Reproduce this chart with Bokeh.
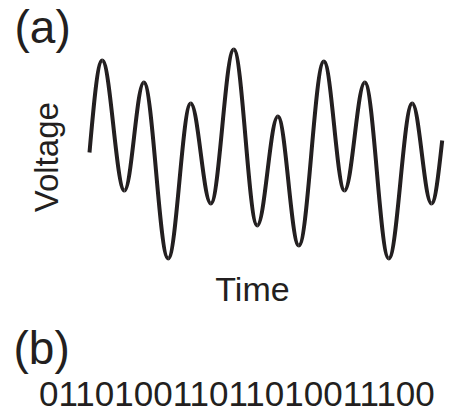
import math
from bokeh.plotting import figure
from bokeh.models import Range1d, Label, ColumnDataSource
from bokeh.embed import file_html
from bokeh.resources import INLINE

# ---- data (time in arbitrary units, voltage in arbitrary units)
time_pts = [0.0, 0.72, 1.98, 3.08, 4.46, 5.74, 6.88, 8.18, 9.51, 10.68,
            11.87, 13.29, 14.46, 15.61, 16.97, 18.30, 19.39, 20.0]
voltage_pts = [0.01, 0.93, -0.37, 0.71, -1.05, 0.50, -0.50, 1.04, -0.72, 0.37,
               -0.92, 0.92, -0.37, 0.71, -1.05, 0.50, -0.50, 0.13]
bits = [0, 1, 1, 0, 1, 0, 0, 1, 1, 0, 1, 1, 0, 1, 0, 0, 1, 1, 1, 0, 0]
label_a = "(a)"
label_b = "(b)"
x_title = "Time"
y_title = "Voltage"

INK = "#231F20"
FONT = "Liberation Sans"

W, H = 460, 409

# smooth curve through the extrema, drawn with Bokeh's bezier glyph
x0s, y0s, x1s, y1s, cx0s, cy0s, cx1s, cy1s = [], [], [], [], [], [], [], []
n = len(time_pts)
for i in range(n - 1):
    xa, ya, xb, yb = time_pts[i], voltage_pts[i], time_pts[i + 1], voltage_pts[i + 1]
    dx, dy = xb - xa, yb - ya
    if i == 0:
        c0 = (xa + 0.326 * dx, ya + 0.513 * dy)
        c1 = (xa + 0.638 * dx, yb)
    elif i == n - 2:
        c0 = (xa + 0.362 * dx, ya)
        c1 = (xa + 0.674 * dx, ya + 0.487 * dy)
    else:
        c0 = (xa + 0.3642 * dx, ya)
        c1 = (xb - 0.3642 * dx, yb)
    x0s.append(xa); y0s.append(ya); x1s.append(xb); y1s.append(yb)
    cx0s.append(c0[0]); cy0s.append(c0[1]); cx1s.append(c1[0]); cy1s.append(c1[1])

src = ColumnDataSource(dict(x0=x0s, y0=y0s, x1=x1s, y1=y1s,
                            cx0=cx0s, cy0=cy0s, cx1=cx1s, cy1=cy1s))

p = figure(width=W, height=H, output_backend="svg", toolbar_location=None,
           x_axis_type=None, y_axis_type=None,
           x_range=Range1d(-5.047, 21.038), y_range=Range1d(-2.56, 1.53),
           min_border=0, min_border_left=0, min_border_right=0,
           min_border_top=0, min_border_bottom=0)
p.grid.visible = False
p.outline_line_color = None
p.background_fill_color = "white"
p.border_fill_color = "white"

p.bezier(x0="x0", y0="y0", x1="x1", y1="y1", cx0="cx0", cy0="cy0",
         cx1="cx1", cy1="cy1", source=src, line_color=INK, line_width=4)

def lab(text, x, y, size, align="left", angle=0.0):
    p.add_layout(Label(x=x, y=y, x_units="screen", y_units="screen", text=text,
                       text_font=FONT, text_font_size=f"{size}px", text_color=INK,
                       text_align=align, text_baseline="alphabetic", angle=angle))

lab(label_a, 14, 383, 46)
lab(label_b, 13, 62, 46)
lab(x_title, 252, 121, 34, align="center")
lab(y_title, 45.5, 252.3, 33, align="center", angle=math.pi / 2)
lab("".join(str(b) for b in bits), 38.5, 15.3, 35)

open("out.html", "w").write(file_html(p, INLINE))
